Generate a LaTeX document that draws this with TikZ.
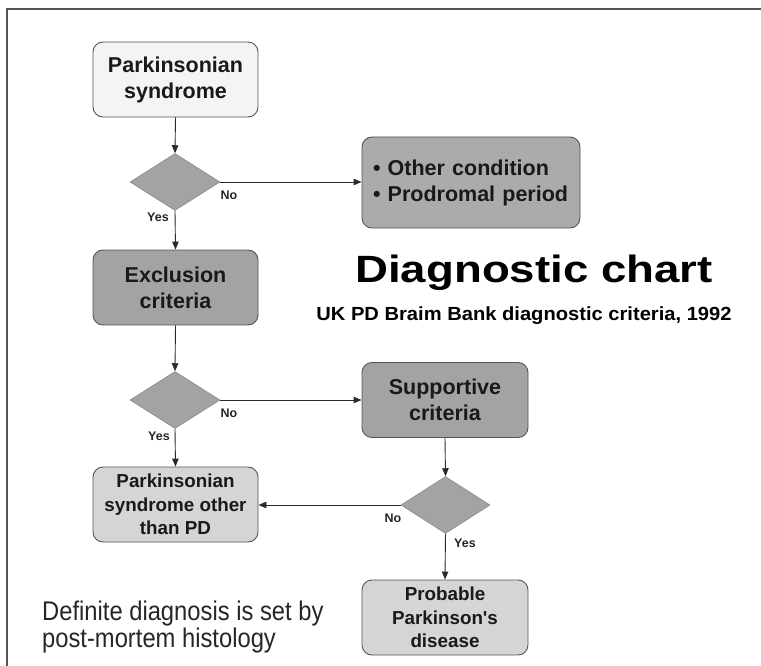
\documentclass[tikz,border=0pt]{standalone}
\usepackage{fontspec}
\setmainfont{Liberation Sans}[Ligatures=TeXOff]
\usetikzlibrary{arrows.meta,shapes.geometric}
\definecolor{edge}{HTML}{555555}
\definecolor{lightbox}{HTML}{F4F4F4}
\definecolor{darkbox}{HTML}{A3A3A3}
\definecolor{midbox}{HTML}{ABABAB}
\definecolor{palebox}{HTML}{D5D5D5}
\definecolor{lineclr}{HTML}{2A2A2A}
\tikzset{
  box/.style={draw=edge, line width=0.9pt, rounded corners=10pt, minimum width=165pt, minimum height=75pt,
    align=center, inner sep=2pt, font=\bfseries\fontsize{21.5}{26}\selectfont, text=black!90},
  smallbox/.style={box, font=\bfseries\fontsize{18.8}{23.5}\selectfont},
  decision/.style={diamond, draw=darkbox!80!black, line width=0.5pt, fill=darkbox, minimum width=90pt, minimum height=57pt,
    inner sep=0pt, aspect=1.6},
  conn/.style={draw=lineclr, line width=0.9pt, -{Triangle[length=8pt,width=6.5pt]}},
  lab/.style={font=\bfseries\fontsize{12.5}{14}\selectfont, text=black!85, inner sep=0pt},
}
\begin{document}
\begin{tikzpicture}[x=1pt,y=-1pt]
\useasboundingbox (0,0) rectangle (761,666);
\draw[edge, line width=1.5pt] (7,666) -- (7,9) -- (761,9);

\node[box, fill=lightbox] (ps) at (175.5,79.5) {Parkinsonian\\syndrome};
\node[decision, minimum width=90pt, minimum height=57pt] (d1) at (175,182) {};
\node[box, fill=darkbox] (excl) at (175.5,287.5) {Exclusion\\criteria};
\node[box, fill=midbox, minimum width=218pt, minimum height=91pt, text width=196pt, inner xsep=11pt, align=left] (other) at (471,182.5) {• Other condition\\• Prodromal period};
\node[decision] (d2) at (175,400) {};
\node[box, fill=darkbox, minimum width=166pt] (supp) at (445,400) {Supportive\\criteria};
\node[smallbox, fill=palebox] (nonpd) at (175.5,504.5) {Parkinsonian\\syndrome other\\than PD};
\node[decision, minimum width=89pt] (d3) at (445.5,505) {};
\node[smallbox, fill=palebox, minimum width=166pt] (prob) at (445,617.5) {Probable\\Parkinson's\\disease};

\draw[conn] (ps.south) -- (d1.north);
\draw[conn] (d1.south) -- (excl.north);
\draw[conn] (d1.east) -- (d1.east -| other.west);
\draw[conn] (excl.south) -- (d2.north);
\draw[conn] (d2.south) -- (nonpd.north);
\draw[conn] (d2.east) -- (d2.east -| supp.west);
\draw[conn] (supp.south) -- (d3.north);
\draw[conn] (d3.west) -- (d3.west -| nonpd.east);
\draw[conn] (d3.south) -- (prob.north);

\node[lab] (no1) at (229,195) {No};
\node[lab] (yes1) at (158,217) {Yes};
\node[lab] (no2) at (229,413) {No};
\node[lab] (yes2) at (159,436) {Yes};
\node[lab] (no3) at (393,518) {No};
\node[lab] (yes3) at (465,543) {Yes};

\node[font=\bfseries\fontsize{38}{40}\selectfont, xscale=1.2, anchor=base, inner sep=0pt] (title) at (534,282) {Diagnostic chart};
\node[font=\bfseries\fontsize{19}{22}\selectfont, xscale=1.06, anchor=base, inner sep=0pt] (sub) at (524,320) {UK PD Braim Bank diagnostic criteria, 1992};
\node[font=\fontsize{27}{27}\selectfont, xscale=0.88, anchor=base west, inner sep=0pt, text=black!85] (def1) at (42,620) {Definite diagnosis is set by};
\node[font=\fontsize{27}{27}\selectfont, xscale=0.88, anchor=base west, inner sep=0pt, text=black!85] (def2) at (42,647) {post-mortem histology};
\end{tikzpicture}
\end{document}
